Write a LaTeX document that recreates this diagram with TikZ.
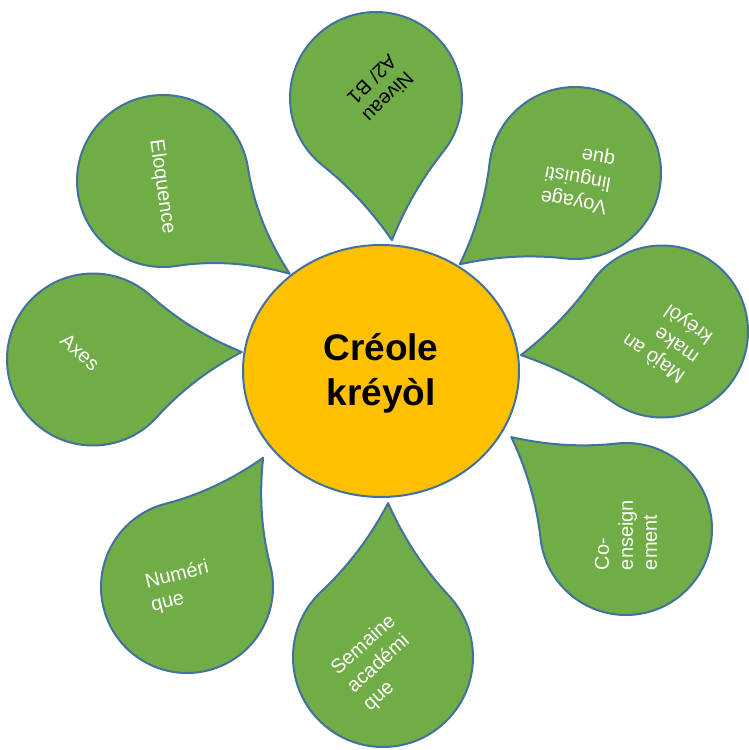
\documentclass[tikz,border=0pt]{standalone}
\usepackage{fontspec}
\setmainfont{Liberation Sans}
\definecolor{petalgreen}{HTML}{70AD47}
\definecolor{petalblue}{HTML}{41719C}
\definecolor{coreorange}{HTML}{FFC000}
\tikzset{
  petalline/.style={fill=petalgreen, draw=petalblue, line width=2pt, line join=round},
  ptext/.style={font=\fontsize{20}{24}\selectfont, text=white, align=left, inner sep=0pt},
  coretext/.style={font=\bfseries\fontsize{37}{45}\selectfont, text=black, align=center, inner sep=0pt}
}
% #1 cx, #2 cy (image coords), #3 tip angle, #4 tip distance, #5 radius
\newcommand\drawpetal[5]{%
  \begin{scope}[shift={(#1,-#2)}, rotate=#3]
    \pgfmathsetmacro\rr{#5}%
    \pgfmathsetmacro\dd{#4}%
    \pgfmathsetmacro\pa{0.70711*\rr}%
    \pgfmathsetmacro\ca{\dd/2+0.47140*\rr}%
    \pgfmathsetmacro\cb{0.47140*\rr-\dd/6}%
    \pgfmathsetmacro\pc{\pa+\dd/6}%
    \pgfmathsetmacro\pd{\pa-\dd/6}%
    \draw[petalline] (\pa,\pa) .. controls (\pc,\pd) and (\ca,\cb) .. (\dd,0)
      .. controls (\ca,-\cb) and (\pc,-\pd) .. (\pa,-\pa)
      arc[start angle=-45, end angle=-315, radius=\rr pt] -- cycle;
  \end{scope}}
\begin{document}
\begin{tikzpicture}[x=1pt,y=1pt]
\useasboundingbox (0,0) rectangle (749,-750);
\drawpetal{376}{98}{-83.6}{143}{86}
\drawpetal{575}{173}{-141.6}{147}{86}
\drawpetal{662}{331.5}{189.5}{143}{86}
\drawpetal{626}{529}{141.3}{147}{86}
\drawpetal{383}{657}{88.1}{154}{90}
\drawpetal{187}{587}{59.5}{150}{86}
\drawpetal{93}{359.5}{2.9}{149}{86}
\drawpetal{163}{181}{-36.2}{157}{86}
\draw[fill=coreorange, draw=petalblue, line width=2pt] (381,-371) ellipse [x radius=138pt, y radius=126pt];
\node[coretext] (core) at (381,-373) {Créole\\kréyòl};
\node[ptext, text=black, rotate=225] (niveau) at (380,-89) {Niveau\\A2/ B1};
\node[ptext, rotate=170] (voyage) at (578,-177) {Voyage\\linguisti\\que};
\node[ptext, rotate=145] (majo) at (668,-338) {Majò an\\make\\kréyòl};
\node[ptext, rotate=90] (coens) at (626,-535) {Co-\\enseign\\ement};
\node[ptext, rotate=42] (semaine) at (380,-663) {Semaine\\académi\\que};
\node[ptext, rotate=14] (numerique) at (180,-587) {Numéri\\que};
\node[ptext, rotate=-42] (axes) at (80,-352) {Axes};
\node[ptext, rotate=-82] (eloquence) at (162,-187) {Eloquence};
\end{tikzpicture}
\end{document}
